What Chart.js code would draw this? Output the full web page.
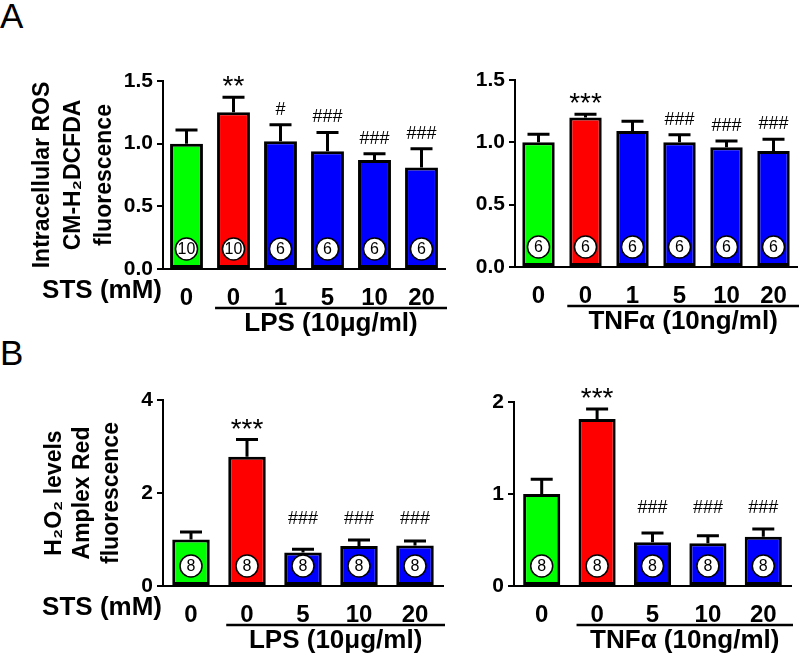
<!DOCTYPE html>
<html>
<head>
<meta charset="utf-8">
<script src="https://cdn.jsdelivr.net/npm/chart.js@4.4.0/dist/chart.umd.min.js"></script>
<style>
  body { margin: 0; background: #fff; }
  #page { position: relative; width: 800px; height: 661px; overflow: hidden; font-family: 'Liberation Sans', Arial, sans-serif; }
  .letter { position: absolute; font-size: 35px; line-height: 35px; }
  canvas { position: absolute; }
</style>
</head>
<body>
<div id="page">
  <div class="letter" style="left:0;top:-2px">A</div>
  <div class="letter" style="left:0;top:335px">B</div>
  <canvas id="rosLps" width="460" height="310" style="left:0;top:40px"></canvas>
  <canvas id="rosTnf" width="340" height="310" style="left:460px;top:40px"></canvas>
  <canvas id="h2o2Lps" width="460" height="311" style="left:0;top:350px"></canvas>
  <canvas id="h2o2Tnf" width="340" height="311" style="left:460px;top:350px"></canvas>
</div>
<script>
// --- data ---
const rosLpsDoses = ['0', '0', '1', '5', '10', '20'];
const rosLpsMean = [1.00, 1.25, 1.02, 0.94, 0.87, 0.81];
const rosLpsSem = [0.11, 0.12, 0.13, 0.15, 0.05, 0.15];
const rosLpsN = [10, 10, 6, 6, 6, 6];
const rosLpsMarks = ['', '**', '#', '###', '###', '###'];

const rosTnfDoses = ['0', '0', '1', '5', '10', '20'];
const rosTnfMean = [1.00, 1.20, 1.09, 1.00, 0.96, 0.93];
const rosTnfSem = [0.065, 0.025, 0.08, 0.06, 0.05, 0.095];
const rosTnfN = [6, 6, 6, 6, 6, 6];
const rosTnfMarks = ['', '***', '', '###', '###', '###'];

const h2o2LpsDoses = ['0', '0', '5', '10', '20'];
const h2o2LpsMean = [1.00, 2.78, 0.72, 0.86, 0.87];
const h2o2LpsSem = [0.16, 0.37, 0.07, 0.13, 0.10];
const h2o2LpsN = [8, 8, 8, 8, 8];
const h2o2LpsMarks = ['', '***', '###', '###', '###'];

const h2o2TnfDoses = ['0', '0', '5', '10', '20'];
const h2o2TnfMean = [1.00, 1.815, 0.475, 0.465, 0.535];
const h2o2TnfSem = [0.16, 0.11, 0.10, 0.08, 0.085];
const h2o2TnfN = [8, 8, 8, 8, 8];
const h2o2TnfMarks = ['', '***', '###', '###', '###'];

const rosTicks = [0, 0.5, 1.0, 1.5];
const h2o2LpsTicks = [0, 2, 4];
const h2o2TnfTicks = [0, 1, 2];

const rowLabel = 'STS (mM)';
const lpsLabel = 'LPS (10μg/ml)';
const tnfLabel = 'TNFα (10ng/ml)';
const rosTitle = ['Intracellular ROS', 'CM-H₂DCFDA', 'fluorescence'];
const h2o2Title = ['H₂O₂ levels', 'Amplex Red', 'fluorescence'];

const FONT = "'Liberation Sans', Arial, sans-serif";
const X_TICK_SIZE = 24;
const X_TICK_PAD = 7;

const barColors = n => ['#00ff00', '#ff0000'].concat(Array(n - 2).fill('#0000ff'));

// error bars, n circles, significance marks and the treatment bracket
const decor = {
  id: 'decor',
  afterDatasetsDraw(chart, args, opts) {
    const ctx = chart.ctx;
    const meta = chart.getDatasetMeta(0);
    const yScale = chart.scales.y;
    const area = chart.chartArea;
    const mean = chart.data.datasets[0].data;
    const tops = mean.map((v, i) => yScale.getPixelForValue(v + opts.sem[i]));

    ctx.save();
    ctx.strokeStyle = '#000';
    ctx.fillStyle = '#000';

    ctx.lineWidth = 3;
    meta.data.forEach((bar, i) => {
      ctx.beginPath();
      ctx.moveTo(bar.x, bar.y);
      ctx.lineTo(bar.x, tops[i]);
      ctx.moveTo(bar.x - 11, tops[i]);
      ctx.lineTo(bar.x + 11, tops[i]);
      ctx.stroke();
    });

    meta.data.forEach((bar, i) => {
      const cy = area.bottom - 20;
      ctx.beginPath();
      ctx.arc(bar.x, cy, 11, 0, Math.PI * 2);
      ctx.fillStyle = '#fff';
      ctx.fill();
      ctx.lineWidth = 1.5;
      ctx.stroke();
      ctx.fillStyle = '#000';
      ctx.font = '16px ' + FONT;
      ctx.textAlign = 'center';
      ctx.textBaseline = 'middle';
      ctx.fillText(String(opts.n[i]), bar.x, cy + 1);
    });

    let hashLevel = Infinity;
    opts.marks.forEach((m, i) => { if (m.startsWith('#')) hashLevel = Math.min(hashLevel, tops[i]); });
    ctx.textAlign = 'center';
    ctx.textBaseline = 'alphabetic';
    opts.marks.forEach((m, i) => {
      if (!m) return;
      const bx = meta.data[i].x;
      if (m.startsWith('*')) {
        ctx.font = '28px ' + FONT;
        ctx.fillText(m, bx, tops[i] - 2);
      } else {
        ctx.font = '18px ' + FONT;
        ctx.fillText(m, bx, opts.alignHash ? hashLevel - 16 : tops[i] - 10);
      }
    });

    const first = meta.data[1];
    const x0 = first.x - first.width / 2 - 2;
    const x1 = area.right + 2;
    const ly = area.bottom + 39;
    ctx.lineWidth = 2.5;
    ctx.beginPath();
    ctx.moveTo(x0, ly);
    ctx.lineTo(x1, ly);
    ctx.stroke();
    ctx.font = 'bold 26px ' + FONT;
    ctx.textBaseline = 'top';
    ctx.fillText(opts.group, (x0 + x1) / 2, ly + 3);

    if (opts.rowLabel) {
      ctx.font = 'bold 26px ' + FONT;
      ctx.textAlign = 'right';
      ctx.textBaseline = 'middle';
      ctx.fillText(opts.rowLabel, area.left - 1, area.bottom + X_TICK_PAD + X_TICK_SIZE * 0.6);
    }
    ctx.restore();
  }
};

function makeChart(id, cfg) {
  const n = cfg.doses.length;
  return new Chart(document.getElementById(id), {
    type: 'bar',
    data: {
      labels: cfg.doses,
      datasets: [{
        data: cfg.mean,
        backgroundColor: barColors(n),
        borderColor: '#000',
        borderWidth: 3,
        borderSkipped: false,
        categoryPercentage: 1,
        barPercentage: cfg.barPct
      }]
    },
    options: {
      responsive: false,
      animation: false,
      events: [],
      layout: { padding: cfg.padding },
      plugins: {
        legend: { display: false },
        tooltip: { enabled: false },
        decor: {
          sem: cfg.sem, n: cfg.n, marks: cfg.marks, group: cfg.group,
          rowLabel: cfg.rowLabel, alignHash: cfg.alignHash
        }
      },
      scales: {
        x: {
          grid: { display: false },
          border: { display: true, color: '#000', width: 2 },
          ticks: { color: '#000', padding: X_TICK_PAD, font: { family: FONT, size: X_TICK_SIZE, weight: 'bold' } },
          afterFit: s => { s.height = cfg.xHeight; }
        },
        y: {
          min: 0,
          max: cfg.ticks[cfg.ticks.length - 1],
          afterBuildTicks: s => { s.ticks = cfg.ticks.map(v => ({ value: v })); },
          grid: { drawOnChartArea: false, drawTicks: true, tickLength: 6, color: '#000', lineWidth: 2 },
          border: { display: true, color: '#000', width: 2 },
          ticks: {
            color: '#000', padding: 4,
            font: { family: FONT, size: 21, weight: 'bold' },
            callback: v => cfg.fmt(v)
          },
          title: cfg.title ? {
            display: true, text: cfg.title, color: '#000',
            font: { family: FONT, size: 23, weight: 'bold', lineHeight: cfg.titleLH },
            padding: { top: cfg.titlePad, bottom: 0 }
          } : { display: false },
          afterFit: s => { s.width = cfg.yWidth; }
        }
      }
    },
    plugins: [decor]
  });
}

makeChart('rosLps', {
  doses: rosLpsDoses, mean: rosLpsMean, sem: rosLpsSem, n: rosLpsN, marks: rosLpsMarks,
  ticks: rosTicks, fmt: v => v.toFixed(1), group: lpsLabel, rowLabel: rowLabel,
  title: rosTitle, titleLH: 1.35, titlePad: 27,
  barPct: 0.7, yWidth: 163, xHeight: 81, padding: { left: 0, right: 15, top: 41, bottom: 0 }
});
makeChart('rosTnf', {
  doses: rosTnfDoses, mean: rosTnfMean, sem: rosTnfSem, n: rosTnfN, marks: rosTnfMarks,
  ticks: rosTicks, fmt: v => v.toFixed(1), group: tnfLabel,
  barPct: 0.69, yWidth: 55, xHeight: 83, padding: { left: 0, right: 3, top: 40, bottom: 0 }
});
makeChart('h2o2Lps', {
  doses: h2o2LpsDoses, mean: h2o2LpsMean, sem: h2o2LpsSem, n: h2o2LpsN, marks: h2o2LpsMarks,
  ticks: h2o2LpsTicks, fmt: v => String(v), group: lpsLabel, rowLabel: rowLabel, alignHash: true,
  title: h2o2Title, titleLH: 1.25, titlePad: 40,
  barPct: 0.67, yWidth: 163, xHeight: 75, padding: { left: 0, right: 17, top: 50, bottom: 0 }
});
makeChart('h2o2Tnf', {
  doses: h2o2TnfDoses, mean: h2o2TnfMean, sem: h2o2TnfSem, n: h2o2TnfN, marks: h2o2TnfMarks,
  ticks: h2o2TnfTicks, fmt: v => String(v), group: tnfLabel, alignHash: true,
  barPct: 0.67, yWidth: 54, xHeight: 75, padding: { left: 0, right: 9, top: 52, bottom: 0 }
});
</script>
</body>
</html>
